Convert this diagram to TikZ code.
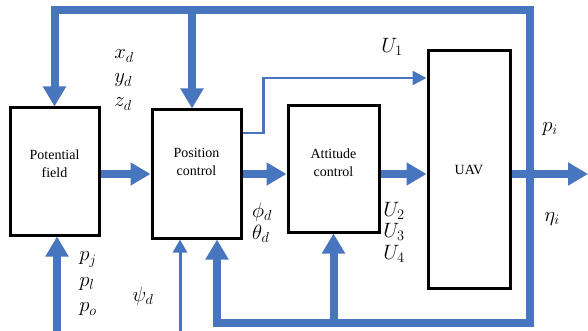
\documentclass[tikz,border=0pt]{standalone}
\usepackage{fontspec}
\setmainfont{Liberation Serif}
\usetikzlibrary{arrows.meta}
\definecolor{flow}{RGB}{72,118,190}

\begin{document}
\begin{tikzpicture}[x=1pt,y=-1pt,
    >={Triangle[length=20pt,width=22pt]},
    block/.style={draw,line width=3pt,inner sep=0pt},
    txt/.style={font=\fontsize{14}{18}\selectfont,align=center},
    sym/.style={font=\fontsize{20}{24}\selectfont,align=left,inner sep=0pt},
    bus/.style={flow,line width=8pt},
    thin/.style={flow,line width=2.5pt,-{Triangle[length=14pt,width=14pt]}}]
  \useasboundingbox (0,0) rectangle (588,331);
  \node[block,minimum width=89pt,minimum height=127pt,
    label={[txt,yshift=7.5pt]center:Potential\\field}] (pf) at (54.5,171.5) {};
  \node[block,minimum width=89pt,minimum height=128pt,
    label={[txt,yshift=12pt]center:Position\\control}] (pc) at (196.5,174) {};
  \node[block,minimum width=91pt,minimum height=126pt,
    label={[txt,yshift=6.5pt]center:Attitude\\control}] (ac) at (333.5,169) {};
  \node[block,txt,minimum width=82pt,minimum height=237pt] (uav) at (469,169.5) {UAV};

  \coordinate (fbtop) at (530,10);
  \coordinate (fbbot) at (530,323);
  \coordinate (out) at (588,174);
  \coordinate (pin) at (57,331);
  \coordinate (psin) at (180,331);

  \draw[bus,<->] (pf.north) |- (fbtop) -- (fbbot) -| ([xshift=20.5pt]pc.south);
  \draw[bus,->] ([xshift=-4.5pt]pc.north |- fbtop) -- ([xshift=-4.5pt]pc.north);
  \draw[bus,->] (ac.south |- fbbot) -- (ac.south);
  \draw[bus,->] (pf.east |- pc.east) -- (pc.west);
  \draw[bus,->] (pc.east) -- (pc.east -| ac.west);
  \draw[bus,->] (ac.east |- pc.east) -- (uav.west |- pc.east);
  \draw[bus,->] (uav.east |- pc.east) -- (out);
  \draw[bus,->] (pin) -- (pin |- pf.south);
  \draw[flow,line width=3pt,-{Triangle[length=13pt,width=14pt]}] (psin) -- (psin |- pc.south);
  \draw[thin] ([yshift=41pt]pc.east) -- ++(21,0) |- ([yshift=91.5pt]uav.west);

  \node[sym] (xyz) at (124,80) {$x_d$\\$y_d$\\$z_d$};
  \node[sym] (u1) at (392,47) {$U_1$};
  \node[sym] (pi) at (550,129) {$p_i$};
  \node[sym] (eta) at (552,219) {$\eta_i$};
  \node[sym] (ang) at (262,223) {$\phi_d$\\[-2pt]$\theta_d$};
  \node[sym] (u234) at (394,232) {$U_2$\\[-2.5pt]$U_3$\\[-2.5pt]$U_4$};
  \node[sym] (pos) at (88,284) {$p_j$\\[1.5pt]$p_l$\\[1.5pt]$p_o$};
  \node[sym] (psi) at (143,296) {$\psi_d$};
\end{tikzpicture}
\end{document}
